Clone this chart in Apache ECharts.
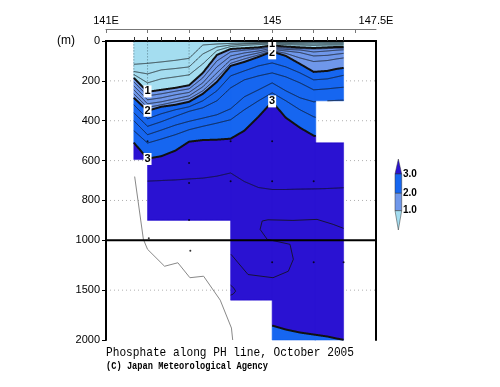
<!DOCTYPE html>
<html><head><meta charset="utf-8">
<script src="https://cdn.jsdelivr.net/npm/echarts@6/dist/echarts.min.js"></script>
<style>html,body{margin:0;padding:0;background:#fff}#c{width:500px;height:387px}</style>
</head><body><div id="c"></div>
<script>
// ---------- data ----------
const stationLon = [141.67,142.0,142.33,142.67,143.0,143.33,143.67,144.0,144.33,144.67,145.0,145.33,145.67,146.0,146.33,146.55,146.72];
// depth (m) of each phosphate contour at each station
const c04 = [117,112,105,97,87,20,15,12,10,8,6,7,8,8,8,8,8];
const c06 = [153,165,145,138,130,65,30,20,15,12,10,12,14,15,14,14,14];
const c08 = [168,210,190,180,170,115,48,28,22,18,15,18,20,22,20,20,20];
const c10 = [185,255,245,235,222,160,70,40,36,32,22,28,32,35,32,30,30];
const c12 = [205,275,265,252,240,185,100,55,46,40,30,35,38,40,38,36,36];
const c14 = [225,295,285,270,258,210,130,75,60,50,36,42,45,55,50,46,44];
const c16 = [245,315,305,290,275,230,160,95,75,60,42,50,58,75,72,66,62];
const c18 = [265,333,320,305,290,250,185,112,90,70,48,62,85,103,98,90,85];
const c20 = [285,350,330,320,305,265,205,125,105,80,53,75,115,155,150,140,135];
const c22 = [320,390,365,345,330,300,250,175,150,125,110,130,160,195,190,180,172];
const c24 = [360,428,405,378,353,335,300,235,195,175,160,180,210,245,240,235,232];
const c26 = [400,470,447,422,403,387,370,340,280,245,210,250,285,305,300,298,297];
const c28 = [450,512,492,470,445,428,412,395,345,300,260,300,345,380,400,400,400];
const c30 = [510,590,578,550,505,497,495,490,450,380,305,385,435,475,490,490,490];
const c32 = [705,703,700,697,692,688,678,662,705,735,745,745,743,742,740,738,736];
const c30b = [1850,1850,1850,1850,1850,1850,1850,1850,1850,1850,1855,1895,1925,1945,1965,1985,1998];
// deep irregular contour
const loopLon = [144.01,144.18,144.42,145.02,145.39,145.51,145.43,144.88,144.71,144.76,144.9,145.5,146.08,146.47,146.72];
const loopDepth = [1140,1225,1343,1375,1310,1190,1040,995,945,903,897,900,895,920,940];
const loop2Lon = [144.0,144.08,144.12,144.06,144.0];
const loop2Depth = [1450,1480,1510,1540,1550];
// bottom topography
const topoLon = [141.69,141.9,142.0,142.41,142.73,143.02,143.35,143.75,144.02,144.05];
const topoDepth = [680,995,1090,1260,1225,1375,1360,1600,1880,2000];
// observed data region: [lonStart, lonEnd, depthTop, depthBottom]
const dataRegions = [[141.67,142.0,0,595],[142.0,144.0,0,900],[144.0,145.0,0,1600],[145.0,146.05,0,2000],[146.05,146.72,0,300],[146.05,146.72,510,2000]];
// contour labels
const labelLon = [142.0,142.0,142.0,145.0,145.0,145.0];
const labelDepth = [253,350,592,303,62,16];
const labelText = ['1','2','3','3','2','1'];
// sample dots
const dotLon = [142.0,143.0,144.0,145.0,143.0,144.0,145.0,146.0,143.0,142.03,143.03,145.0,146.0,146.72];
const dotDepth = [503,612,503,503,712,703,703,703,898,990,1105,1219,1219,1219];
const sampleLon = [141.67,142.0,143.0];
const sampleBottom = [185,250,175];
// axis ticks / labels
const topLabelLon = [141,145,147.5];
const topLabelText = ['141E','145','147.5E'];
const degreeTicks = [141,142,143,144,145,146,147];
const stationTicks = [141.67,142.0,142.33,142.67,143.0,143.33,143.67,144.0,144.33,144.67,145.0,145.33,145.67,146.0,146.33,146.55,146.72];
const depthTicks = [0,200,400,600,800,1000,1500,2000];
const gridDepths = [200,400,600,800,1500];
const legendLevels = ['3.0','2.0','1.0'];

// ---------- helpers ----------
const COL = {cyan:'#a4ddf0', med:'#6f97ea', bright:'#1666f0', dark:'#2a12d2'};
const u = d => d <= 1000 ? d : 1000 + (d - 1000) / 2;
const dOfU = v => v <= 1000 ? v : 1000 + (v - 1000) * 2;
function interp(arr, x){
  const L = stationLon; const n = L.length;
  if (x <= L[0]) return arr[0];
  if (x >= L[n-1]) return arr[n-1];
  for (let k=0;k<n-1;k++){ if (x>=L[k] && x<=L[k+1]) { const t=(x-L[k])/(L[k+1]-L[k]); return arr[k]+(arr[k+1]-arr[k])*t; } }
  return arr[n-1];
}
function sampleXs(x0,x1){
  const s=[x0,x1];
  for (let x=Math.ceil(x0/0.005)*0.005; x<x1; x+=0.005) s.push(+x.toFixed(4));
  stationLon.forEach(l=>{ if(l>x0&&l<x1) s.push(l); });
  s.sort((a,b)=>a-b);
  return s.filter((v,i)=>i===0||v-s[i-1]>1e-6);
}
const clamp=(v,a,b)=>Math.max(a,Math.min(b,v));
function inside(x,d){ return dataRegions.some(r=>x>=r[0]-1e-6&&x<=r[1]+1e-6&&d>=r[2]-1e-6&&d<=r[3]+1e-6); }
// drawing extents: overlap a region slightly into a neighbour that covers a superset of its depth range (hides seams)
const OV = 0.025;
const drawRegions = dataRegions.map(r=>{
  let x0=r[0], x1=r[1];
  dataRegions.forEach(q=>{
    if (q===r) return;
    if (Math.abs(q[0]-r[1])<1e-6 && q[2]<=r[2] && q[3]>=r[3]) x1=r[1]+OV;
    if (Math.abs(q[1]-r[0])<1e-6 && q[2]<=r[2] && q[3]>=r[3]) x0=r[0]-OV;
  });
  return [x0,x1,r[2],r[3]];
});

const bands = [
  {lo:null, hi:c10, color:COL.cyan},
  {lo:c10, hi:c20, color:COL.med},
  {lo:c20, hi:c30, color:COL.bright},
  {lo:c30, hi:c30b, color:COL.dark},
  {lo:c30b, hi:null, color:COL.bright}
];
const contours = [
  {d:c04,w:0.8},{d:c06,w:0.8},{d:c08,w:0.8},{d:c10,w:2},
  {d:c12,w:0.8},{d:c14,w:0.8},{d:c16,w:0.8},{d:c18,w:0.8},{d:c20,w:2},
  {d:c22,w:0.8},{d:c24,w:0.8},{d:c26,w:0.8},{d:c28,w:0.8},{d:c30,w:2},
  {d:c32,w:0.8},{d:c30b,w:2}
];

function renderBand(params, api){
  const b = bands[api.value(2)];
  const children=[];
  drawRegions.forEach(r=>{
    const xs=sampleXs(r[0],r[1]);
    const top=xs.map(x=>clamp(b.lo?interp(b.lo,x):0,r[2],r[3]));
    const bot=xs.map(x=>clamp(b.hi?interp(b.hi,x):2000,r[2],r[3]));
    let mh=0; for(let k=0;k<xs.length;k++) mh=Math.max(mh,bot[k]-top[k]);
    if (mh<0.5) return;
    const pts=[];
    for(let k=0;k<xs.length;k++) pts.push(api.coord([xs[k],u(top[k])]));
    for(let k=xs.length-1;k>=0;k--) pts.push(api.coord([xs[k],u(bot[k])]));
    children.push({type:'polygon',shape:{points:pts},style:{fill:b.color,stroke:b.color,lineWidth:0.6}});
  });
  return {type:'group',children};
}
function renderContour(params, api){
  const c = contours[api.value(2)];
  const xs=sampleXs(stationLon[0],stationLon[stationLon.length-1]);
  const runs=[]; let run=[];
  xs.forEach(x=>{ const d=interp(c.d,x); if(inside(x,d)) run.push(api.coord([x,u(d)])); else { if(run.length>1) runs.push(run); run=[]; } });
  if(run.length>1) runs.push(run);
  return {type:'group',children:runs.map(p=>({type:'polyline',shape:{points:p},style:{stroke:'#111',lineWidth:c.w,fill:'none'}}))};
}
function renderGrid(params, api){
  const d=gridDepths[api.value(2)];
  const a=api.coord([141,u(d)]), b=api.coord([147.5,u(d)]);
  return {type:'line',shape:{x1:a[0],y1:a[1],x2:b[0],y2:b[1]},style:{stroke:'#b0b0b0',lineWidth:1,lineDash:[1,3]}};
}
function renderSample(params, api){
  const i=api.value(2);
  const a=api.coord([sampleLon[i],u(2)]), b=api.coord([sampleLon[i],u(sampleBottom[i])]);
  return {type:'line',shape:{x1:a[0],y1:a[1],x2:b[0],y2:b[1]},style:{stroke:'#5a7f8a',lineWidth:1,lineDash:[1,2]}};
}
function renderLabel(params, api){
  const i=api.value(2);
  const p=api.coord([labelLon[i],u(labelDepth[i])]);
  return {type:'group',children:[
    {type:'rect',shape:{x:p[0]-4,y:p[1]-6,width:8,height:12},style:{fill:'#fff'}},
    {type:'text',x:p[0],y:p[1],style:{text:labelText[i],fill:'#000',font:'bold 11px "Liberation Sans"',textAlign:'center',textVerticalAlign:'middle',align:'center',verticalAlign:'middle'}}
  ]};
}
function renderLine1000(params, api){
  const a=api.coord([141,u(1000)]), b=api.coord([147.5,u(1000)]);
  return {type:'line',shape:{x1:a[0],y1:a[1],x2:b[0],y2:b[1]},style:{stroke:'#000',lineWidth:2}};
}
const idxData = n => Array.from({length:n},(_,i)=>[141,0,i]);

// ---------- chart ----------
const chart = echarts.init(document.getElementById('c'),null,{renderer:'canvas'});
const axisFont = {fontFamily:'Liberation Sans',fontSize:11,color:'#000'};
chart.setOption({
  animation:false,
  backgroundColor:'#fff',
  grid:{left:106,top:41,width:270,height:299,containLabel:false},
  xAxis:[
    {type:'value',position:'bottom',min:141,max:147.5,z:10,axisLine:{show:true,lineStyle:{color:'#000',width:2}},axisTick:{show:false},axisLabel:{show:false},splitLine:{show:false}},
    {type:'value',position:'top',min:141,max:147.5,z:10,axisLine:{show:true,lineStyle:{color:'#000',width:2}},
      axisTick:{show:true,inside:false,length:4,customValues:stationTicks,lineStyle:{color:'#333',width:1}},axisLabel:{show:false},splitLine:{show:false}},
    {type:'value',position:'top',offset:12,min:141,max:147.5,z:10,axisLine:{show:true,lineStyle:{color:'#777',width:1}},
      axisTick:{show:true,inside:true,length:4,customValues:degreeTicks,lineStyle:{color:'#777',width:1}},
      axisLabel:Object.assign({show:true,margin:3,customValues:topLabelLon,showMinLabel:true,showMaxLabel:true,
        formatter:v=>{const k=topLabelLon.findIndex(t=>Math.abs(t-v)<1e-6);return k>=0?topLabelText[k]:'';}},axisFont),
      splitLine:{show:false}}
  ],
  yAxis:[
    {type:'value',inverse:true,min:0,max:1500,z:10,axisLine:{show:true,lineStyle:{color:'#000',width:2}},
      axisTick:{show:true,length:4,customValues:depthTicks.map(u),lineStyle:{color:'#000'}},
      axisLabel:Object.assign({show:true,margin:6,customValues:depthTicks.map(u),formatter:v=>String(Math.round(dOfU(v)))},axisFont),
      splitLine:{show:false}},
    {type:'value',position:'right',inverse:true,min:0,max:1500,z:10,axisLine:{show:true,lineStyle:{color:'#000',width:2}},axisTick:{show:false},axisLabel:{show:false},splitLine:{show:false}}
  ],
  series:[
    {type:'custom',z:1,data:idxData(gridDepths.length),encode:{x:0,y:1},renderItem:renderGrid,silent:true},
    {type:'custom',z:2,data:idxData(bands.length),encode:{x:0,y:1},renderItem:renderBand,silent:true},
    {type:'custom',z:3,data:idxData(sampleLon.length),encode:{x:0,y:1},renderItem:renderSample,silent:true},
    {type:'custom',z:3,data:idxData(contours.length),encode:{x:0,y:1},renderItem:renderContour,silent:true},
    {type:'line',z:3,data:loopLon.map((l,i)=>[l,u(loopDepth[i])]),showSymbol:false,lineStyle:{color:'#111',width:0.8},silent:true},
    {type:'line',z:3,data:loop2Lon.map((l,i)=>[l,u(loop2Depth[i])]),showSymbol:false,lineStyle:{color:'#111',width:0.8},silent:true},
    {type:'line',z:3,data:topoLon.map((l,i)=>[l,u(topoDepth[i])]),showSymbol:false,lineStyle:{color:'#888',width:1},silent:true},
    {type:'scatter',z:4,data:dotLon.map((l,i)=>[l,u(dotDepth[i])]),symbolSize:2,itemStyle:{color:'#000'},silent:true},
    {type:'custom',z:5,data:idxData(labelText.length),encode:{x:0,y:1},renderItem:renderLabel,silent:true},
    {type:'custom',z:6,data:idxData(1),encode:{x:0,y:1},renderItem:renderLine1000,silent:true}
  ],
  graphic:[
    {type:'text',x:66,y:41,style:{text:'(m)',font:'12px "Liberation Sans"',fill:'#000',textAlign:'center',textVerticalAlign:'middle',align:'center',verticalAlign:'middle'}},
    {type:'polygon',shape:{points:[[395,174],[401.7,174],[398.35,159]]},style:{fill:COL.dark,stroke:'#333',lineWidth:0.5}},
    {type:'rect',shape:{x:395,y:174,width:6.7,height:19.3},style:{fill:COL.bright,stroke:'#333',lineWidth:0.5}},
    {type:'rect',shape:{x:395,y:193.3,width:6.7,height:17.4},style:{fill:COL.med,stroke:'#333',lineWidth:0.5}},
    {type:'polygon',shape:{points:[[395,210.7],[401.7,210.7],[398.35,230]]},style:{fill:COL.cyan,stroke:'#333',lineWidth:0.5}},
    {type:'text',x:403,y:174,style:{text:legendLevels[0],font:'bold 10px "Liberation Sans"',fill:'#000',textVerticalAlign:'middle',verticalAlign:'middle'}},
    {type:'text',x:403,y:193.3,style:{text:legendLevels[1],font:'bold 10px "Liberation Sans"',fill:'#000',textVerticalAlign:'middle',verticalAlign:'middle'}},
    {type:'text',x:403,y:210.7,style:{text:legendLevels[2],font:'bold 10px "Liberation Sans"',fill:'#000',textVerticalAlign:'middle',verticalAlign:'middle'}},
    {type:'text',x:106,y:352.5,scaleX:0.84,style:{text:'Phosphate along PH line, October 2005',font:'13.3px "Liberation Mono"',fill:'#000',textVerticalAlign:'middle',verticalAlign:'middle'}},
    {type:'text',x:106,y:366.5,scaleX:0.87,style:{text:'(C) Japan Meteorological Agency',font:'bold 10px "Liberation Mono"',fill:'#000',textVerticalAlign:'middle',verticalAlign:'middle'}}
  ]
});
</script></body></html>
